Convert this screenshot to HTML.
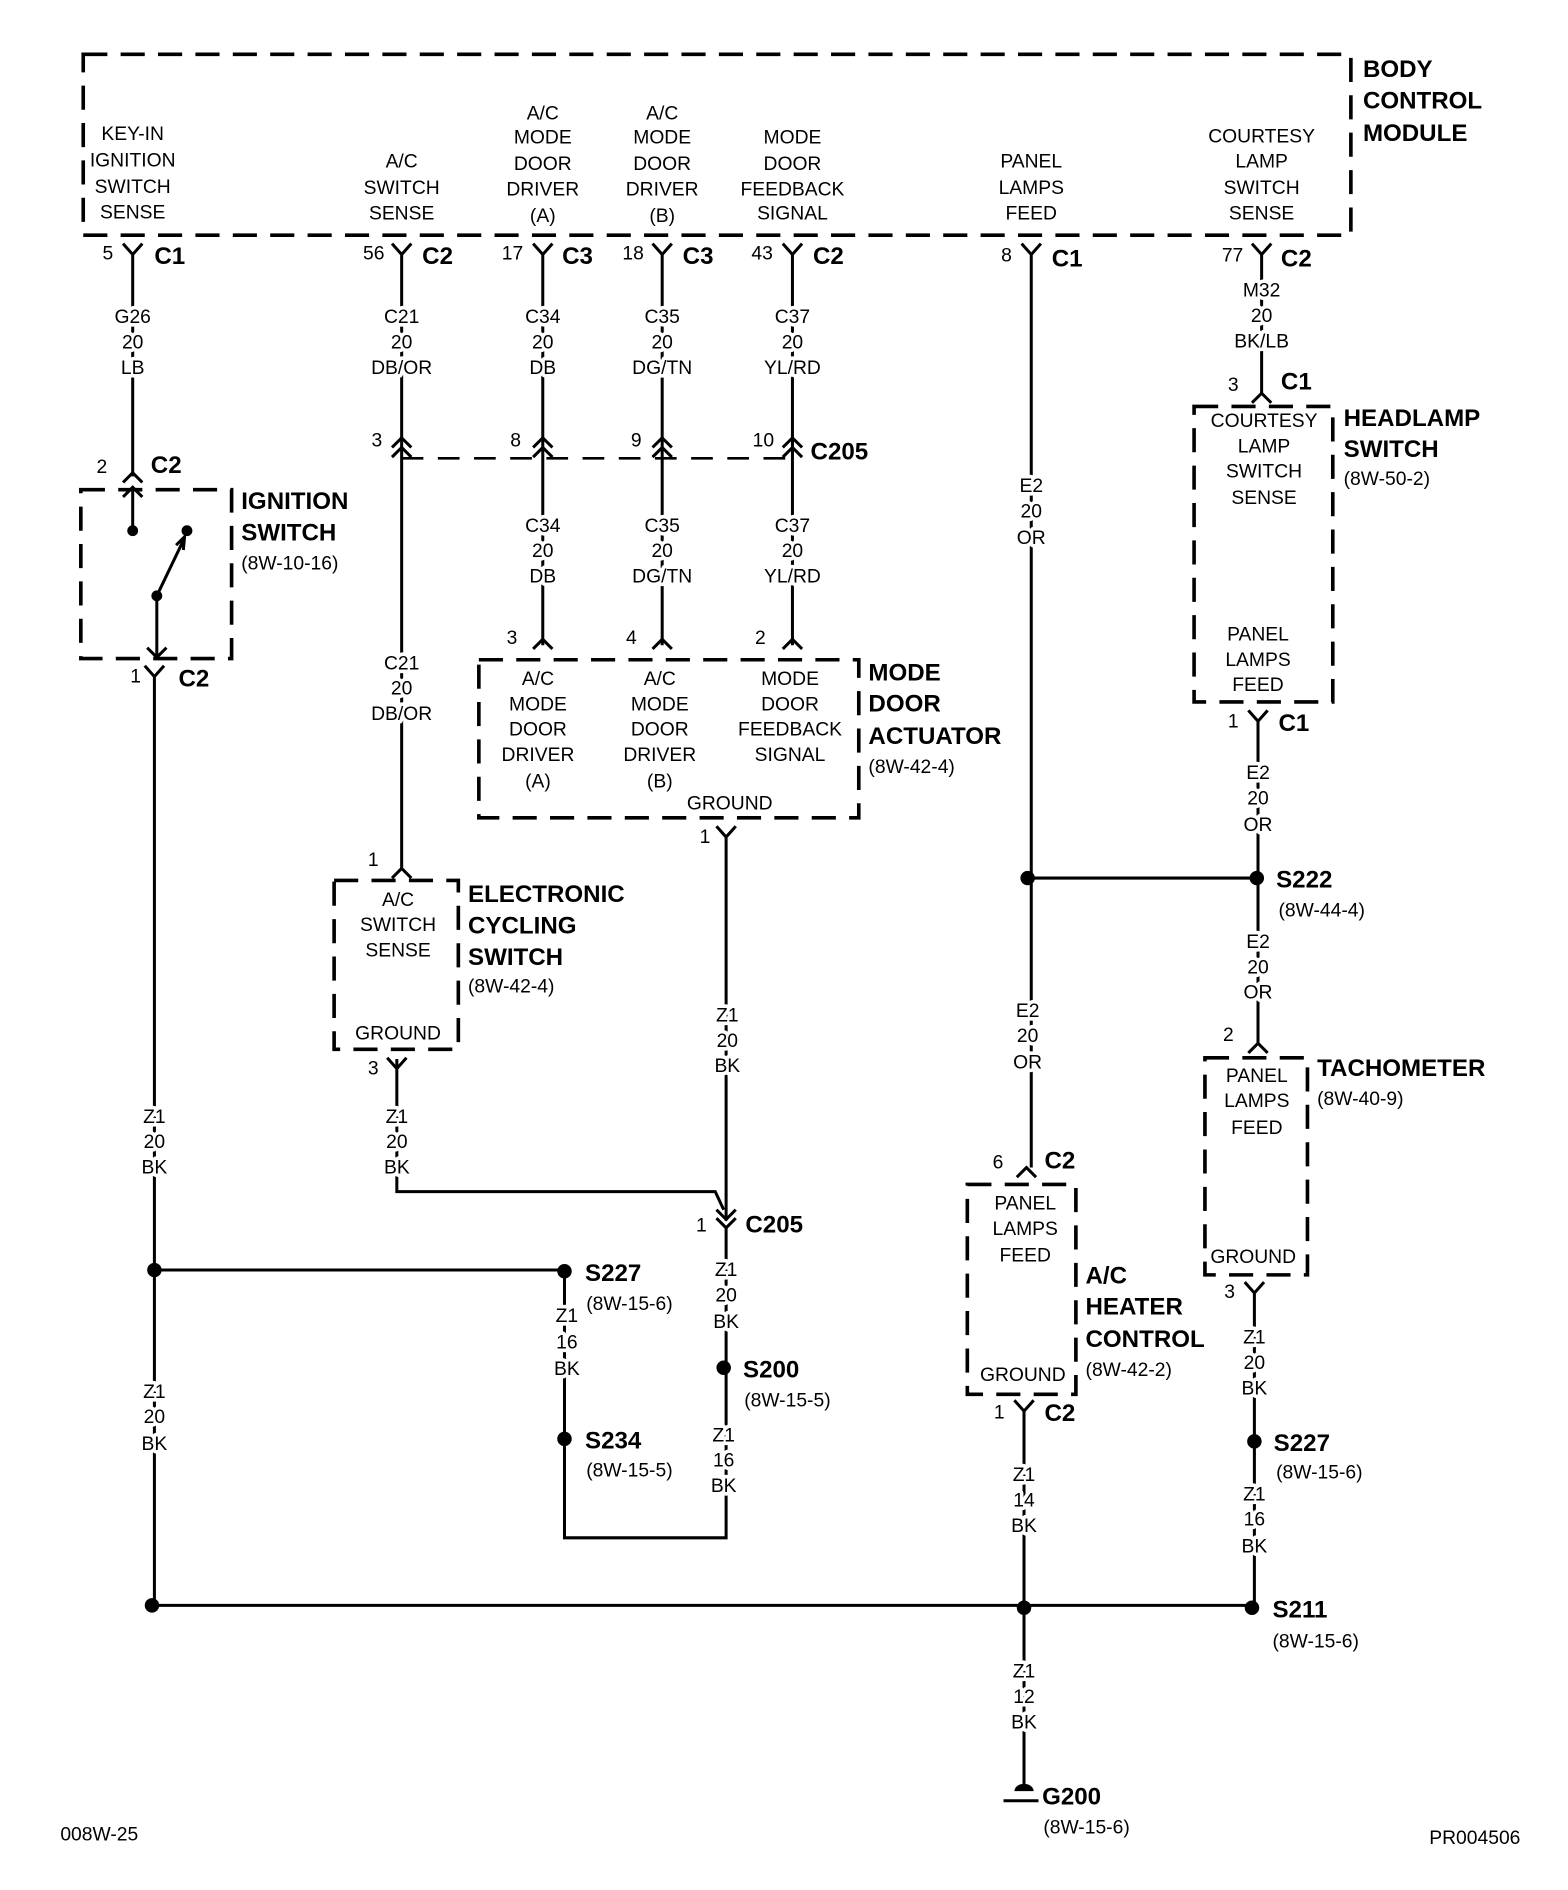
<!DOCTYPE html>
<html><head><meta charset="utf-8"><style>
html,body{margin:0;padding:0;background:#fff;}
svg{display:block}
text{font-family:"Liberation Sans Narrow","Liberation Sans",sans-serif;fill:#000;}
.t{font-size:16px;text-anchor:middle;paint-order:stroke;stroke:#fff;stroke-width:6px;stroke-linejoin:round}
.s{font-size:16px;}
.n{font-size:16px;text-anchor:end}
.b{font-size:20px;font-weight:bold;}
.w{stroke:#000;stroke-width:2.5;fill:none}
.d{stroke:#000;stroke-width:3;fill:none;stroke-dasharray:20 11}
.dl{stroke:#000;stroke-width:2.2;fill:none;stroke-dasharray:18 12}
</style></head><body>
<svg width="1568" height="1890" viewBox="0 0 1300 1567" xmlns="http://www.w3.org/2000/svg">
<rect x="69" y="45" width="1051" height="150" class="d"/>
<text class="b" x="1130" y="64">BODY</text>
<text class="b" x="1130" y="90">CONTROL</text>
<text class="b" x="1130" y="117">MODULE</text>
<g class="t">
<text x="110" y="116">KEY-IN</text><text x="110" y="138">IGNITION</text><text x="110" y="160">SWITCH</text><text x="110" y="181">SENSE</text>
<text x="333" y="139">A/C</text><text x="333" y="161">SWITCH</text><text x="333" y="182">SENSE</text>
<text x="450" y="99">A/C</text><text x="450" y="119">MODE</text><text x="450" y="141">DOOR</text><text x="450" y="162">DRIVER</text><text x="450" y="184">(A)</text>
<text x="549" y="99">A/C</text><text x="549" y="119">MODE</text><text x="549" y="141">DOOR</text><text x="549" y="162">DRIVER</text><text x="549" y="184">(B)</text>
<text x="657" y="119">MODE</text><text x="657" y="141">DOOR</text><text x="657" y="162">FEEDBACK</text><text x="657" y="182">SIGNAL</text>
<text x="855" y="139">PANEL</text><text x="855" y="161">LAMPS</text><text x="855" y="182">FEED</text>
<text x="1046" y="118">COURTESY</text><text x="1046" y="139">LAMP</text><text x="1046" y="161">SWITCH</text><text x="1046" y="182">SENSE</text>
</g>
<g class="w">
<path d="M102 202 L110 211 L118 202 M110 211 V395"/>
<path d="M325 202 L333 211 L341 202 M333 211 V720"/>
<path d="M442 202 L450 211 L458 202 M450 211 V535"/>
<path d="M541 202 L549 211 L557 202 M549 211 V535"/>
<path d="M649 202 L657 211 L665 202 M657 211 V535"/>
<path d="M847 202 L855 211 L863 202 M855 211 V968"/>
<path d="M1038 202 L1046 211 L1054 202 M1046 211 V326"/>
</g>
<g class="s"><text x="85" y="215">5</text><text x="301" y="215">56</text><text x="416" y="215">17</text><text x="516" y="215">18</text><text x="623" y="215">43</text><text x="830" y="217">8</text><text x="1013" y="217">77</text></g>
<g class="b" style="font-size:20px"><text x="128" y="219">C1</text><text x="350" y="219">C2</text><text x="466" y="219">C3</text><text x="566" y="219">C3</text><text x="674" y="219">C2</text><text x="872" y="221">C1</text><text x="1062" y="221">C2</text></g>
<g class="t">
<text x="110" y="268">G26</text><text x="110" y="289">20</text><text x="110" y="310">LB</text>
<text x="333" y="268">C21</text><text x="333" y="289">20</text><text x="333" y="310">DB/OR</text>
<text x="450" y="268">C34</text><text x="450" y="289">20</text><text x="450" y="310">DB</text>
<text x="549" y="268">C35</text><text x="549" y="289">20</text><text x="549" y="310">DG/TN</text>
<text x="657" y="268">C37</text><text x="657" y="289">20</text><text x="657" y="310">YL/RD</text>
<text x="1046" y="246">M32</text><text x="1046" y="267">20</text><text x="1046" y="288">BK/LB</text>
</g>
<path d="M333 380 H657" class="dl"/>
<g class="w">
<path d="M325 371 L333 363 L341 371 M325 379 L333 371 L341 379"/>
<path d="M442 371 L450 363 L458 371 M442 379 L450 371 L458 379"/>
<path d="M541 371 L549 363 L557 371 M541 379 L549 371 L557 379"/>
<path d="M649 371 L657 363 L665 371 M649 379 L657 371 L665 379"/>
</g>
<g class="s"><text x="308" y="370">3</text><text x="423" y="370">8</text><text x="523" y="370">9</text><text x="624" y="370">10</text></g>
<text class="b" x="672" y="381" style="font-size:20px">C205</text>
<g class="t">
<text x="450" y="441">C34</text><text x="450" y="462">20</text><text x="450" y="483">DB</text>
<text x="549" y="441">C35</text><text x="549" y="462">20</text><text x="549" y="483">DG/TN</text>
<text x="657" y="441">C37</text><text x="657" y="462">20</text><text x="657" y="483">YL/RD</text>
<text x="333" y="555">C21</text><text x="333" y="576">20</text><text x="333" y="597">DB/OR</text>
</g>
<g class="w"><path d="M102 400 L110 392 L118 400 M102 412 L110 404 L118 412 M110 404 V440"/></g>
<text class="s" x="80" y="392">2</text><text class="b" x="125" y="392" style="font-size:20px">C2</text>
<rect x="67" y="406" width="125" height="140" class="d"/>
<circle cx="110" cy="440" r="4.5"/><circle cx="155" cy="440" r="4.5"/><circle cx="130" cy="494" r="4.5"/>
<g class="w"><path d="M130 494 L153 446 M146 452 L153 445 L152 456 M130 494 V545 M122 537 L130 545 L138 537"/>
<path d="M120 552 L128 561 L136 552 M128 561 V1331"/></g>
<text class="s" x="108" y="566">1</text><text class="b" x="148" y="569" style="font-size:20px">C2</text>
<text class="b" x="200" y="422">IGNITION</text><text class="b" x="200" y="448">SWITCH</text><text class="s" x="200" y="472">(8W-10-16)</text>
<g class="w">
<path d="M442 538 L450 530 L458 538"/><path d="M541 538 L549 530 L557 538"/><path d="M649 538 L657 530 L665 538"/>
</g>
<g class="s"><text x="420" y="534">3</text><text x="519" y="534">4</text><text x="626" y="534">2</text></g>
<rect x="397" y="547" width="315" height="131" class="d"/>
<g class="t">
<text x="446" y="568">A/C</text><text x="446" y="589">MODE</text><text x="446" y="610">DOOR</text><text x="446" y="631">DRIVER</text><text x="446" y="653">(A)</text>
<text x="547" y="568">A/C</text><text x="547" y="589">MODE</text><text x="547" y="610">DOOR</text><text x="547" y="631">DRIVER</text><text x="547" y="653">(B)</text>
<text x="655" y="568">MODE</text><text x="655" y="589">DOOR</text><text x="655" y="610">FEEDBACK</text><text x="655" y="631">SIGNAL</text>
<text x="605" y="671">GROUND</text>
</g>
<text class="b" x="720" y="564">MODE</text><text class="b" x="720" y="590">DOOR</text><text class="b" x="720" y="617">ACTUATOR</text><text class="s" x="720" y="641">(8W-42-4)</text>
<g class="w"><path d="M594 685 L602 694 L610 685 M602 694 V1012"/>
<path d="M329 878 L329 988 L593 988 L600 1003"/>
<path d="M594 1003 L602 1011 L610 1003 M594 1010 L602 1018 L610 1010 M602 1018 V1275 H468 V1054"/>
</g>
<text class="s" x="580" y="699">1</text>
<g class="t"><text x="603" y="847">Z1</text><text x="603" y="868">20</text><text x="603" y="889">BK</text></g>
<text class="s" x="577" y="1021">1</text><text class="b" x="618" y="1022" style="font-size:20px">C205</text>
<g class="w"><path d="M325 728 L333 720 L341 728"/></g>
<text class="s" x="305" y="718">1</text>
<rect x="277" y="730" width="103" height="140" class="d"/>
<g class="t"><text x="330" y="751">A/C</text><text x="330" y="772">SWITCH</text><text x="330" y="793">SENSE</text><text x="330" y="862">GROUND</text></g>
<text class="b" x="388" y="748">ELECTRONIC</text><text class="b" x="388" y="774">CYCLING</text><text class="b" x="388" y="800">SWITCH</text><text class="s" x="388" y="823">(8W-42-4)</text>
<g class="w"><path d="M321 877 L329 886 L337 877"/></g>
<text class="s" x="305" y="891">3</text>
<g class="t"><text x="329" y="931">Z1</text><text x="329" y="952">20</text><text x="329" y="973">BK</text>
<text x="128" y="931">Z1</text><text x="128" y="952">20</text><text x="128" y="973">BK</text>
<text x="128" y="1159">Z1</text><text x="128" y="1180">20</text><text x="128" y="1202">BK</text>
</g>
<path d="M128 1053 H468" class="w"/>
<circle cx="128" cy="1053" r="6"/><circle cx="468" cy="1054" r="6"/><circle cx="468" cy="1193" r="6"/><circle cx="600" cy="1134" r="6"/>
<text class="b" x="485" y="1062" style="font-size:20px">S227</text><text class="s" x="486" y="1086">(8W-15-6)</text>
<text class="b" x="485" y="1201" style="font-size:20px">S234</text><text class="s" x="486" y="1224">(8W-15-5)</text>
<text class="b" x="616" y="1142" style="font-size:20px">S200</text><text class="s" x="617" y="1166">(8W-15-5)</text>
<g class="t">
<text x="470" y="1096">Z1</text><text x="470" y="1118">16</text><text x="470" y="1140">BK</text>
<text x="602" y="1058">Z1</text><text x="602" y="1079">20</text><text x="602" y="1101">BK</text>
<text x="600" y="1195">Z1</text><text x="600" y="1216">16</text><text x="600" y="1237">BK</text>
</g>
<path d="M126 1331 H1038" class="w"/>
<circle cx="126" cy="1331" r="6"/><circle cx="849" cy="1333" r="6"/><circle cx="1038" cy="1333" r="6"/>
<path d="M852 728 H1042" class="w"/>
<circle cx="852" cy="728" r="6"/><circle cx="1042" cy="728" r="6"/>
<g class="t"><text x="855" y="408">E2</text><text x="855" y="429">20</text><text x="855" y="451">OR</text>
<text x="852" y="843">E2</text><text x="852" y="864">20</text><text x="852" y="886">OR</text></g>
<g class="w"><path d="M843 976 L851 968 L859 976"/></g>
<text class="s" x="823" y="969">6</text><text class="b" x="866" y="969" style="font-size:20px">C2</text>
<rect x="802" y="982" width="90" height="174" class="d"/>
<g class="t"><text x="850" y="1003">PANEL</text><text x="850" y="1024">LAMPS</text><text x="850" y="1046">FEED</text><text x="848" y="1145">GROUND</text></g>
<text class="b" x="900" y="1064">A/C</text><text class="b" x="900" y="1090">HEATER</text><text class="b" x="900" y="1117">CONTROL</text><text class="s" x="900" y="1141">(8W-42-2)</text>
<g class="w"><path d="M841 1161 L849 1170 L857 1161 M849 1170 V1484"/></g>
<text class="s" x="824" y="1176">1</text><text class="b" x="866" y="1178" style="font-size:20px">C2</text>
<g class="t"><text x="849" y="1228">Z1</text><text x="849" y="1249">14</text><text x="849" y="1270">BK</text>
<text x="849" y="1391">Z1</text><text x="849" y="1412">12</text><text x="849" y="1433">BK</text></g>
<path d="M841 1485 A8 6 0 0 1 857 1485 Z"/><path d="M832 1493 H861" class="w"/>
<text class="b" x="864" y="1496" style="font-size:20px">G200</text><text class="s" x="865" y="1520">(8W-15-6)</text>
<g class="w"><path d="M1038 334 L1046 326 L1054 334"/></g>
<text class="s" x="1018" y="324">3</text><text class="b" x="1062" y="323" style="font-size:20px">C1</text>
<rect x="990" y="337" width="115" height="245" class="d"/>
<g class="t"><text x="1048" y="354">COURTESY</text><text x="1048" y="375">LAMP</text><text x="1048" y="396">SWITCH</text><text x="1048" y="418">SENSE</text>
<text x="1043" y="531">PANEL</text><text x="1043" y="552">LAMPS</text><text x="1043" y="573">FEED</text></g>
<text class="b" x="1114" y="353">HEADLAMP</text><text class="b" x="1114" y="379">SWITCH</text><text class="s" x="1114" y="402">(8W-50-2)</text>
<g class="w"><path d="M1035 589 L1043 598 L1051 589 M1043 598 V865 M1035 873 L1043 865 L1051 873"/></g>
<text class="s" x="1018" y="603">1</text><text class="b" x="1060" y="606" style="font-size:20px">C1</text>
<g class="t"><text x="1043" y="646">E2</text><text x="1043" y="667">20</text><text x="1043" y="689">OR</text>
<text x="1043" y="786">E2</text><text x="1043" y="807">20</text><text x="1043" y="828">OR</text></g>
<text class="b" x="1058" y="736" style="font-size:20px">S222</text><text class="s" x="1060" y="760">(8W-44-4)</text>
<text class="s" x="1014" y="863">2</text>
<rect x="999" y="877" width="85" height="180" class="d"/>
<g class="t"><text x="1042" y="897">PANEL</text><text x="1042" y="918">LAMPS</text><text x="1042" y="940">FEED</text><text x="1039" y="1047">GROUND</text></g>
<text class="b" x="1092" y="892">TACHOMETER</text><text class="s" x="1092" y="916">(8W-40-9)</text>
<g class="w"><path d="M1032 1063 L1040 1072 L1048 1063 M1040 1072 V1333"/></g>
<text class="s" x="1015" y="1076">3</text>
<circle cx="1040" cy="1195" r="6"/>
<g class="t"><text x="1040" y="1114">Z1</text><text x="1040" y="1135">20</text><text x="1040" y="1156">BK</text>
<text x="1040" y="1244">Z1</text><text x="1040" y="1265">16</text><text x="1040" y="1287">BK</text></g>
<text class="b" x="1056" y="1203" style="font-size:20px">S227</text><text class="s" x="1058" y="1226">(8W-15-6)</text>
<text class="b" x="1055" y="1341" style="font-size:20px">S211</text><text class="s" x="1055" y="1366">(8W-15-6)</text>
<text class="s" x="50" y="1526">008W-25</text>
<text class="s" x="1185" y="1529">PR004506</text>
</svg>
</body></html>
